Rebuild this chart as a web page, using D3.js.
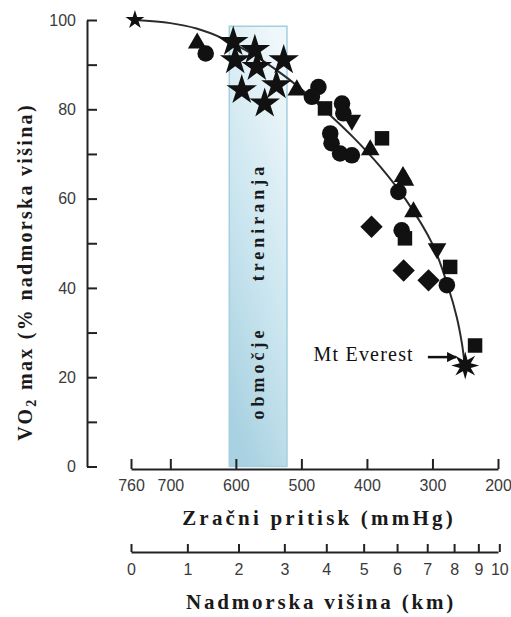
<!DOCTYPE html>
<html><head><meta charset="utf-8">
<title>VO2 max in nadmorska visina</title>
<script src="https://d3js.org/d3.v7.min.js"></script>
<style>
  body { margin: 0; background: #fff; }
  .axis path, .axis line { stroke: #222; stroke-width: 2px; }
  .axis text { font-family: "Liberation Sans", Arial, sans-serif; font-size: 16px; fill: #3a3a3a; }
  .title { font-family: "Liberation Serif", serif; font-weight: bold; fill: #1a1a1a; }
  .mark { fill: #111; }
</style>
</head>
<body>
<svg id="chart" width="511" height="617"></svg>
<script>

// values: [pressure mmHg, VO2 max %]
const pressureTicks = [760, 700, 600, 500, 400, 300, 200];
const vo2Ticks = [0, 10, 20, 30, 40, 50, 60, 70, 80, 90, 100];
const kmLabels = [0, 1, 2, 3, 4, 5, 6, 7, 8, 9, 10];
const kmPressure = [760, 674, 596, 526, 462, 405, 354, 308, 267, 230, 198];
const trainingZone = [610, 522];
const trainingZoneTop = 98.6;

const curve = [[754,100],[700,99.3],[660,98.1],[620,95.9],[580,92.8],[540,89],[500,84.5],[460,79.2],
               [420,73.6],[380,67.2],[340,59.6],[300,49.8],[276,40.2],[263,33.5],[255,27.5],[251,23]];

const seaLevel = [[754, 100]];
const stars = [[604,95.1],[571,93.3],[527,91],[601,91],[568,89.5],[591,84.3],[538,85.4],[556,81.3]];
const circles = [[646,92.5],[474,85],[484,82.8],[438,81.3],[436,79.1],[456,74.6],[454,72.4],[441,70.1],
                 [423,69.7],[352,61.5],[347,52.9],[278,40.6]];
const triangles = [[659,94.8],[507,84.3],[395,70.9],[345,64.9],[342,64.1],[329,57]];
const trianglesDown = [[423,77.6],[293,48.8]];
const squares = [[464,80.2],[377,73.5],[342,51.1],[273,44.7],[235,27.1]];
const diamonds = [[393,53.7],[344,43.9],[306,41.7]];
const everest = [[250, 22.6]];
const everestArrow = [[307, 24.5], [264, 24.5]];

const svg = d3.select("#chart");

const x = d3.scaleLinear().domain([760, 200]).range([131, 498]);
const y = d3.scaleLinear().domain([0, 100]).range([466.5, 20]);

// training zone band
const defs = svg.append("defs");
const grad = defs.append("linearGradient").attr("id", "zoneFill")
  .attr("x1", 0.7).attr("y1", 0).attr("x2", 0.3).attr("y2", 1);
grad.append("stop").attr("offset", "0%").attr("stop-color", "#eef7fa");
grad.append("stop").attr("offset", "55%").attr("stop-color", "#cae5ef");
grad.append("stop").attr("offset", "100%").attr("stop-color", "#a8d1e1");

svg.append("rect")
  .attr("x", x(trainingZone[0]))
  .attr("y", y(trainingZoneTop))
  .attr("width", x(trainingZone[1]) - x(trainingZone[0]))
  .attr("height", y(0) - y(trainingZoneTop))
  .attr("fill", "url(#zoneFill)")
  .attr("stroke", "#a3cfdf")
  .attr("stroke-width", 1.5);

const zoneMid = (x(trainingZone[0]) + x(trainingZone[1])) / 2 + 6;
[["območje", 373], ["treniranja", 222]].forEach(([t, cy]) => {
  svg.append("text").attr("class", "title")
    .attr("transform", "translate(" + zoneMid + "," + cy + ") rotate(-90)")
    .attr("text-anchor", "middle")
    .style("font-size", "18px")
    .style("letter-spacing", "4px")
    .text(t);
});

// y axis
svg.append("g").attr("class", "axis")
  .attr("transform", "translate(87,0)")
  .call(d3.axisLeft(y).tickValues(vo2Ticks).tickSizeInner(-10).tickSizeOuter(0).tickPadding(11)
    .tickFormat(d => d % 20 === 0 ? d : ""));

// pressure axis
svg.append("g").attr("class", "axis")
  .attr("transform", "translate(0,469)")
  .call(d3.axisBottom(x).tickValues(pressureTicks).tickSizeInner(-10).tickSizeOuter(0).tickPadding(11)
    .tickFormat(d3.format("d")));

// altitude axis (km mapped onto the pressure scale)
svg.append("g").attr("class", "axis")
  .attr("transform", "translate(0,552)")
  .call(d3.axisBottom(x).tickValues(kmPressure).tickSizeInner(-8).tickSizeOuter(0).tickPadding(12)
    .tickFormat((d, i) => kmLabels[i]));

svg.selectAll(".axis .domain").attr("stroke-width", 2.2);

// titles
svg.append("text").attr("class", "title")
  .attr("x", 319).attr("y", 525).attr("text-anchor", "middle")
  .style("font-size", "21px").style("letter-spacing", "3.2px")
  .text("Zračni pritisk  (mmHg)");

svg.append("text").attr("class", "title")
  .attr("x", 321).attr("y", 609).attr("text-anchor", "middle")
  .style("font-size", "21px").style("letter-spacing", "2.8px")
  .text("Nadmorska višina (km)");

const yTitle = svg.append("text").attr("class", "title")
  .attr("transform", "translate(32,272) rotate(-90)")
  .attr("text-anchor", "middle")
  .style("font-size", "20px").style("letter-spacing", "2.3px");
yTitle.append("tspan").text("VO");
yTitle.append("tspan").attr("baseline-shift", "-25%").style("font-size", "14px").text("2");
yTitle.append("tspan").text(" max (% nadmorska višina)");

// fitted curve
const line = d3.line().x(d => x(d[0])).y(d => y(d[1])).curve(d3.curveCatmullRom);
svg.append("path").datum(curve)
  .attr("d", line)
  .attr("fill", "none")
  .attr("stroke", "#2b2b2b")
  .attr("stroke-width", 2);

// markers
function drawSymbols(data, type, size, rot) {
  svg.append("g").selectAll("path").data(data).join("path")
    .attr("class", "mark")
    .attr("transform", d => "translate(" + x(d[0]) + "," + y(d[1]) + ") rotate(" + (rot || 0) + ")")
    .attr("d", d3.symbol().type(type).size(size));
}
drawSymbols(circles, d3.symbolCircle, 215);
drawSymbols(squares, d3.symbolSquare, 210);
drawSymbols(diamonds, d3.symbolSquare, 250, 45);
drawSymbols(triangles, d3.symbolTriangle, 150);
drawSymbols(trianglesDown, d3.symbolTriangle, 150, 180);
drawSymbols(seaLevel, d3.symbolStar, 110);
drawSymbols(stars, d3.symbolStar, 290);

// Everest burst (8 points)
const burst = d3.lineRadial().curve(d3.curveLinearClosed)(
  d3.range(16).map(i => [i * Math.PI / 8, i % 2 === 0 ? 14 : 6]));
svg.selectAll("path.burst").data(everest).join("path")
  .attr("class", "mark burst")
  .attr("transform", d => "translate(" + x(d[0]) + "," + y(d[1]) + ")")
  .attr("d", burst);

// Mt Everest label and arrow
defs.append("marker").attr("id", "arrow")
  .attr("viewBox", "0 0 10 10").attr("refX", 9).attr("refY", 5)
  .attr("markerWidth", 4).attr("markerHeight", 4).attr("orient", "auto")
  .append("path").attr("d", "M0,0L10,5L0,10Z").attr("fill", "#111");

svg.append("line")
  .attr("x1", x(everestArrow[0][0])).attr("y1", y(everestArrow[0][1]))
  .attr("x2", x(everestArrow[1][0])).attr("y2", y(everestArrow[1][1]))
  .attr("stroke", "#111").attr("stroke-width", 2.5)
  .attr("marker-end", "url(#arrow)");

svg.append("text")
  .attr("x", x(everestArrow[0][0]) - 14).attr("y", 361)
  .attr("text-anchor", "end")
  .style("font-family", "'Liberation Serif', serif")
  .style("font-size", "20px").style("letter-spacing", "1.2px")
  .attr("fill", "#111")
  .text("Mt Everest");

</script>
</body>
</html>
